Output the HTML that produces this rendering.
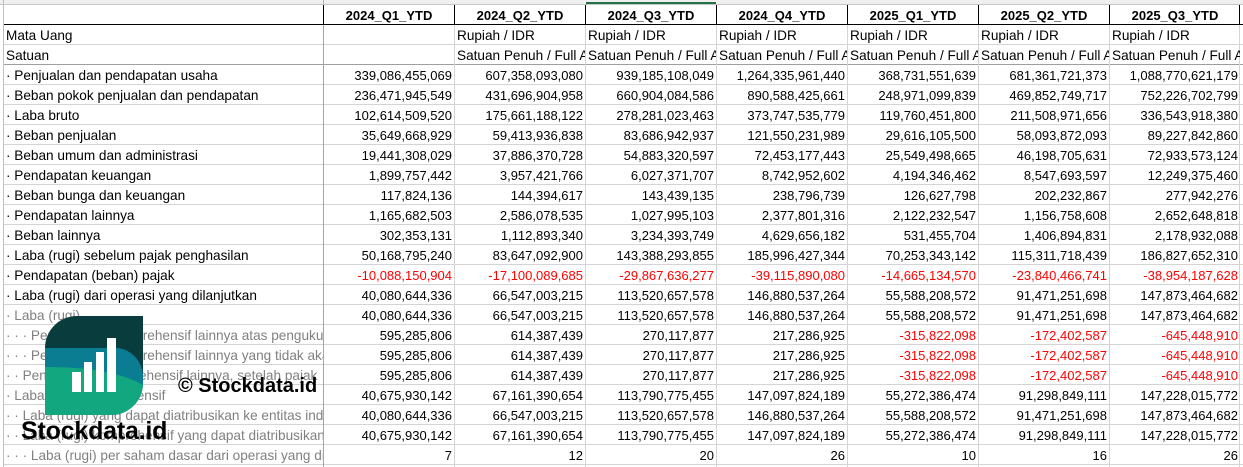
<!DOCTYPE html>
<html><head><meta charset="utf-8">
<style>
html,body{margin:0;padding:0;background:#fff;}
#c{position:relative;width:1243px;height:467px;overflow:hidden;background:#fff;font-family:"Liberation Sans",sans-serif;color:#000;}
.h{position:absolute;height:1px;left:3px;width:1240px;background:#d4d4d4;}
.v{position:absolute;width:1px;background:#d4d4d4;}
.r{position:absolute;left:0;width:1243px;height:19px;}
.c{position:absolute;top:0;height:19px;line-height:20px;overflow:hidden;white-space:nowrap;}
.l{left:4px;width:317px;padding-left:2px;font-size:13.6px;}
.n{width:128px;padding-right:2px;text-align:right;font-size:13px;}
.t{width:128px;padding-left:2px;text-align:left;font-size:13.6px;}
.hd{width:130px;text-align:center;font-weight:bold;font-size:13px;}
.k0{left:324px}.k1{left:455px}.k2{left:586px}.k3{left:717px}.k4{left:848px}.k5{left:979px}.k6{left:1110px}
.red{color:#f00;}
.g{color:#808080;}
</style></head><body>
<div id="c">
<!-- top band -->
<div style="position:absolute;left:0;top:0;width:1243px;height:4px;background:#efefef;"></div>
<div style="position:absolute;left:0;top:4px;width:1243px;height:1px;background:#c6c6c6;"></div>
<div style="position:absolute;left:586px;top:2px;width:130px;height:2px;background:#217346;"></div>

<!-- horizontal gridlines -->
<div class="h" style="top:24px;background:#000;"></div>
<div class="h" style="top:44px;"></div>
<div class="h" style="top:64px;background:#9e9e9e;"></div>
<div class="h" style="top:84px;"></div>
<div class="h" style="top:104px;"></div>
<div class="h" style="top:124px;"></div>
<div class="h" style="top:144px;"></div>
<div class="h" style="top:164px;"></div>
<div class="h" style="top:184px;"></div>
<div class="h" style="top:204px;"></div>
<div class="h" style="top:224px;"></div>
<div class="h" style="top:244px;"></div>
<div class="h" style="top:264px;"></div>
<div class="h" style="top:284px;"></div>
<div class="h" style="top:304px;"></div>
<div class="h" style="top:324px;"></div>
<div class="h" style="top:344px;"></div>
<div class="h" style="top:364px;"></div>
<div class="h" style="top:384px;"></div>
<div class="h" style="top:404px;"></div>
<div class="h" style="top:424px;"></div>
<div class="h" style="top:444px;"></div>
<div class="h" style="top:464px;"></div>

<!-- vertical lines -->
<div class="v" style="left:3px;top:0;height:467px;background:#c0c0c0;"></div>
<div class="v" style="left:323px;top:0;height:4px;background:#b0b0b0;"></div>
<div class="v" style="left:323px;top:5px;height:20px;background:#000;"></div>
<div class="v" style="left:323px;top:25px;height:442px;background:#a6a6a6;"></div>
<div class="v" style="left:454px;top:5px;height:20px;background:#000;"></div>
<div class="v" style="left:454px;top:25px;height:442px;"></div>
<div class="v" style="left:585px;top:5px;height:20px;background:#000;"></div>
<div class="v" style="left:585px;top:25px;height:442px;"></div>
<div class="v" style="left:716px;top:5px;height:20px;background:#000;"></div>
<div class="v" style="left:716px;top:25px;height:442px;"></div>
<div class="v" style="left:847px;top:5px;height:20px;background:#000;"></div>
<div class="v" style="left:847px;top:25px;height:442px;"></div>
<div class="v" style="left:978px;top:5px;height:20px;background:#000;"></div>
<div class="v" style="left:978px;top:25px;height:442px;"></div>
<div class="v" style="left:1109px;top:5px;height:20px;background:#000;"></div>
<div class="v" style="left:1109px;top:25px;height:442px;"></div>
<div class="v" style="left:1239px;top:5px;height:20px;background:#000;"></div>
<div class="v" style="left:1239px;top:25px;height:442px;"></div>

<!-- header -->
<div class="r" style="top:6px;">
<div class="c hd k0">2024_Q1_YTD</div><div class="c hd k1">2024_Q2_YTD</div><div class="c hd k2">2024_Q3_YTD</div><div class="c hd k3">2024_Q4_YTD</div><div class="c hd k4">2025_Q1_YTD</div><div class="c hd k5">2025_Q2_YTD</div><div class="c hd k6">2025_Q3_YTD</div>
</div>
<div class="r" style="top:26px;">
<div class="c l">Mata Uang</div>
<div class="c t k1">Rupiah / IDR</div><div class="c t k2">Rupiah / IDR</div><div class="c t k3">Rupiah / IDR</div><div class="c t k4">Rupiah / IDR</div><div class="c t k5">Rupiah / IDR</div><div class="c t k6">Rupiah / IDR</div>
</div>
<div class="r" style="top:46px;">
<div class="c l">Satuan</div>
<div class="c t k1">Satuan Penuh / Full Amount</div><div class="c t k2">Satuan Penuh / Full Amount</div><div class="c t k3">Satuan Penuh / Full Amount</div><div class="c t k4">Satuan Penuh / Full Amount</div><div class="c t k5">Satuan Penuh / Full Amount</div><div class="c t k6">Satuan Penuh / Full Amount</div>
</div>

<!-- data rows -->
<div class="r" style="top:66px;">
<div class="c l">· Penjualan dan pendapatan usaha</div>
<div class="c n k0">339,086,455,069</div><div class="c n k1">607,358,093,080</div><div class="c n k2">939,185,108,049</div><div class="c n k3">1,264,335,961,440</div><div class="c n k4">368,731,551,639</div><div class="c n k5">681,361,721,373</div><div class="c n k6">1,088,770,621,179</div>
</div>
<div class="r" style="top:86px;">
<div class="c l">· Beban pokok penjualan dan pendapatan</div>
<div class="c n k0">236,471,945,549</div><div class="c n k1">431,696,904,958</div><div class="c n k2">660,904,084,586</div><div class="c n k3">890,588,425,661</div><div class="c n k4">248,971,099,839</div><div class="c n k5">469,852,749,717</div><div class="c n k6">752,226,702,799</div>
</div>
<div class="r" style="top:106px;">
<div class="c l">· Laba bruto</div>
<div class="c n k0">102,614,509,520</div><div class="c n k1">175,661,188,122</div><div class="c n k2">278,281,023,463</div><div class="c n k3">373,747,535,779</div><div class="c n k4">119,760,451,800</div><div class="c n k5">211,508,971,656</div><div class="c n k6">336,543,918,380</div>
</div>
<div class="r" style="top:126px;">
<div class="c l">· Beban penjualan</div>
<div class="c n k0">35,649,668,929</div><div class="c n k1">59,413,936,838</div><div class="c n k2">83,686,942,937</div><div class="c n k3">121,550,231,989</div><div class="c n k4">29,616,105,500</div><div class="c n k5">58,093,872,093</div><div class="c n k6">89,227,842,860</div>
</div>
<div class="r" style="top:146px;">
<div class="c l">· Beban umum dan administrasi</div>
<div class="c n k0">19,441,308,029</div><div class="c n k1">37,886,370,728</div><div class="c n k2">54,883,320,597</div><div class="c n k3">72,453,177,443</div><div class="c n k4">25,549,498,665</div><div class="c n k5">46,198,705,631</div><div class="c n k6">72,933,573,124</div>
</div>
<div class="r" style="top:166px;">
<div class="c l">· Pendapatan keuangan</div>
<div class="c n k0">1,899,757,442</div><div class="c n k1">3,957,421,766</div><div class="c n k2">6,027,371,707</div><div class="c n k3">8,742,952,602</div><div class="c n k4">4,194,346,462</div><div class="c n k5">8,547,693,597</div><div class="c n k6">12,249,375,460</div>
</div>
<div class="r" style="top:186px;">
<div class="c l">· Beban bunga dan keuangan</div>
<div class="c n k0">117,824,136</div><div class="c n k1">144,394,617</div><div class="c n k2">143,439,135</div><div class="c n k3">238,796,739</div><div class="c n k4">126,627,798</div><div class="c n k5">202,232,867</div><div class="c n k6">277,942,276</div>
</div>
<div class="r" style="top:206px;">
<div class="c l">· Pendapatan lainnya</div>
<div class="c n k0">1,165,682,503</div><div class="c n k1">2,586,078,535</div><div class="c n k2">1,027,995,103</div><div class="c n k3">2,377,801,316</div><div class="c n k4">2,122,232,547</div><div class="c n k5">1,156,758,608</div><div class="c n k6">2,652,648,818</div>
</div>
<div class="r" style="top:226px;">
<div class="c l">· Beban lainnya</div>
<div class="c n k0">302,353,131</div><div class="c n k1">1,112,893,340</div><div class="c n k2">3,234,393,749</div><div class="c n k3">4,629,656,182</div><div class="c n k4">531,455,704</div><div class="c n k5">1,406,894,831</div><div class="c n k6">2,178,932,088</div>
</div>
<div class="r" style="top:246px;">
<div class="c l">· Laba (rugi) sebelum pajak penghasilan</div>
<div class="c n k0">50,168,795,240</div><div class="c n k1">83,647,092,900</div><div class="c n k2">143,388,293,855</div><div class="c n k3">185,996,427,344</div><div class="c n k4">70,253,343,142</div><div class="c n k5">115,311,718,439</div><div class="c n k6">186,827,652,310</div>
</div>
<div class="r" style="top:266px;">
<div class="c l">· Pendapatan (beban) pajak</div>
<div class="c n k0 red">-10,088,150,904</div><div class="c n k1 red">-17,100,089,685</div><div class="c n k2 red">-29,867,636,277</div><div class="c n k3 red">-39,115,890,080</div><div class="c n k4 red">-14,665,134,570</div><div class="c n k5 red">-23,840,466,741</div><div class="c n k6 red">-38,954,187,628</div>
</div>
<div class="r" style="top:286px;">
<div class="c l">· Laba (rugi) dari operasi yang dilanjutkan</div>
<div class="c n k0">40,080,644,336</div><div class="c n k1">66,547,003,215</div><div class="c n k2">113,520,657,578</div><div class="c n k3">146,880,537,264</div><div class="c n k4">55,588,208,572</div><div class="c n k5">91,471,251,698</div><div class="c n k6">147,873,464,682</div>
</div>
<div class="r" style="top:306px;">
<div class="c l g">· Laba (rugi)</div>
<div class="c n k0">40,080,644,336</div><div class="c n k1">66,547,003,215</div><div class="c n k2">113,520,657,578</div><div class="c n k3">146,880,537,264</div><div class="c n k4">55,588,208,572</div><div class="c n k5">91,471,251,698</div><div class="c n k6">147,873,464,682</div>
</div>
<div class="r" style="top:326px;">
<div class="c l g">· · · Penghasilan komprehensif lainnya atas pengukuran kembali</div>
<div class="c n k0">595,285,806</div><div class="c n k1">614,387,439</div><div class="c n k2">270,117,877</div><div class="c n k3">217,286,925</div><div class="c n k4 red">-315,822,098</div><div class="c n k5 red">-172,402,587</div><div class="c n k6 red">-645,448,910</div>
</div>
<div class="r" style="top:346px;">
<div class="c l g">· · · Penghasilan komprehensif lainnya yang tidak akan direklasifikasi</div>
<div class="c n k0">595,285,806</div><div class="c n k1">614,387,439</div><div class="c n k2">270,117,877</div><div class="c n k3">217,286,925</div><div class="c n k4 red">-315,822,098</div><div class="c n k5 red">-172,402,587</div><div class="c n k6 red">-645,448,910</div>
</div>
<div class="r" style="top:366px;">
<div class="c l g">· · Penghasilan komprehensif lainnya, setelah pajak</div>
<div class="c n k0">595,285,806</div><div class="c n k1">614,387,439</div><div class="c n k2">270,117,877</div><div class="c n k3">217,286,925</div><div class="c n k4 red">-315,822,098</div><div class="c n k5 red">-172,402,587</div><div class="c n k6 red">-645,448,910</div>
</div>
<div class="r" style="top:386px;">
<div class="c l g">· Laba (rugi) komprehensif</div>
<div class="c n k0">40,675,930,142</div><div class="c n k1">67,161,390,654</div><div class="c n k2">113,790,775,455</div><div class="c n k3">147,097,824,189</div><div class="c n k4">55,272,386,474</div><div class="c n k5">91,298,849,111</div><div class="c n k6">147,228,015,772</div>
</div>
<div class="r" style="top:406px;">
<div class="c l g">· · Laba (rugi) yang dapat diatribusikan ke entitas induk</div>
<div class="c n k0">40,080,644,336</div><div class="c n k1">66,547,003,215</div><div class="c n k2">113,520,657,578</div><div class="c n k3">146,880,537,264</div><div class="c n k4">55,588,208,572</div><div class="c n k5">91,471,251,698</div><div class="c n k6">147,873,464,682</div>
</div>
<div class="r" style="top:426px;">
<div class="c l g">· · Laba (rugi) komprehensif yang dapat diatribusikan</div>
<div class="c n k0">40,675,930,142</div><div class="c n k1">67,161,390,654</div><div class="c n k2">113,790,775,455</div><div class="c n k3">147,097,824,189</div><div class="c n k4">55,272,386,474</div><div class="c n k5">91,298,849,111</div><div class="c n k6">147,228,015,772</div>
</div>
<div class="r" style="top:446px;">
<div class="c l g">· · · Laba (rugi) per saham dasar dari operasi yang dilanjutkan</div>
<div class="c n k0">7</div><div class="c n k1">12</div><div class="c n k2">20</div><div class="c n k3">26</div><div class="c n k4">10</div><div class="c n k5">16</div><div class="c n k6">26</div>
</div>

<!-- watermark logo -->
<svg style="position:absolute;left:45px;top:316px;" width="98" height="99" viewBox="0 0 98 99">
<defs><clipPath id="lg"><path d="M32,0 H98 V67 A32,32 0 0 1 66,99 H0 V32 A32,32 0 0 1 32,0 Z"/></clipPath></defs>
<g clip-path="url(#lg)">
<rect x="0" y="0" width="98" height="99" fill="#093d3d"/>
<path d="M0,32 H72 A28,30 0 0 1 98,58 V99 H0 Z" fill="#0b7d93"/>
<path d="M0,51 C30,51 70,53 98,69 V99 H0 Z" fill="#13a77f"/>
</g>
<rect x="27" y="56" width="9" height="20" fill="#fff"/>
<rect x="39" y="46" width="8" height="30" fill="#fff"/>
<rect x="51" y="36" width="8" height="40" fill="#fff"/>
<rect x="62" y="22" width="9" height="54" fill="#fff"/>
</svg>
<div style="position:absolute;left:21px;top:419px;font-size:25px;line-height:25px;font-weight:bold;color:#000;white-space:nowrap;letter-spacing:-0.2px;">Stockdata.id</div>
<div style="position:absolute;left:178px;top:376px;font-size:20px;line-height:20px;font-weight:bold;color:#000;white-space:nowrap;">© Stockdata.id</div>
</div>
</body></html>
